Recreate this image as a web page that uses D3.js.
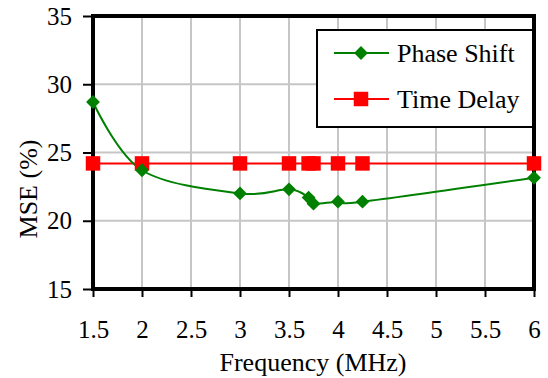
<!DOCTYPE html>
<html>
<head>
<meta charset="utf-8">
<script src="https://cdn.jsdelivr.net/npm/d3@7"></script>
<style>
	body { margin: 0; background: #fff; }
	svg, svg text { font-family: "Liberation Serif", "Times New Roman", serif; }
</style>
</head>
<body>
<svg id="chart" width="548" height="378"></svg>
<script>
const frequencies = [1.5, 2, 3, 3.5, 3.7, 3.75, 4, 4.25, 6];
const phaseShift = [28.7, 23.7, 22.0, 22.3, 21.7, 21.25, 21.4, 21.4, 23.15];
const timeDelay = [24.2, 24.2, 24.2, 24.2, 24.2, 24.2, 24.2, 24.2, 24.2];
const xTicks = [1.5, 2, 2.5, 3, 3.5, 4, 4.5, 5, 5.5, 6];
const yTicks = [15, 20, 25, 30, 35];
const seriesNames = ["Phase Shift", "Time Delay"];

const svg = d3.select('#chart');
const margin = {left: 93, right: 14, top: 16, bottom: 89};
const W = 548, H = 378;
const FONT = '"Liberation Serif", "Times New Roman", serif';

const x = d3.scaleLinear().domain([1.5, 6]).range([margin.left, W - margin.right]);
const y = d3.scaleLinear().domain([15, 35]).range([H - margin.bottom, margin.top]);

// grid
svg.append('g')
	.selectAll('line')
	.data(xTicks)
	.join('line')
	.attr('x1', d => x(d)).attr('x2', d => x(d))
	.attr('y1', y(35)).attr('y2', y(15))
	.attr('stroke', '#c6c6c6').attr('stroke-width', 2);
svg.append('g')
	.selectAll('line')
	.data(yTicks)
	.join('line')
	.attr('y1', d => y(d)).attr('y2', d => y(d))
	.attr('x1', x(1.5)).attr('x2', x(6))
	.attr('stroke', '#c6c6c6').attr('stroke-width', 2);

// axes
const xAxis = svg.append('g')
	.attr('transform', `translate(0,${y(15)})`)
	.call(d3.axisBottom(x).tickValues(xTicks).tickSize(8).tickPadding(23).tickFormat(d3.format('')));
const yAxis = svg.append('g')
	.attr('transform', `translate(${x(1.5)},0)`)
	.call(d3.axisLeft(y).tickValues(yTicks).tickSize(10).tickPadding(11));
[xAxis, yAxis].forEach(a => {
	a.attr('font-family', FONT);
	a.select('.domain').remove();
	a.selectAll('line').attr('stroke', '#000').attr('stroke-width', 2);
	a.selectAll('text').attr('font-size', 25).style('font-family', FONT).attr('fill', '#000');
});

// plot border
svg.append('rect')
	.attr('x', x(1.5)).attr('y', y(35))
	.attr('width', x(6) - x(1.5)).attr('height', y(15) - y(35))
	.attr('fill', 'none').attr('stroke', '#000').attr('stroke-width', 4);

// series
const phaseData = frequencies.map((f, i) => ({x: f, y: phaseShift[i]}));
const delayData = frequencies.map((f, i) => ({x: f, y: timeDelay[i]}));

svg.append('path')
	.datum(delayData)
	.attr('fill', 'none').attr('stroke', '#ff0000').attr('stroke-width', 2)
	.attr('d', d3.line().x(d => x(d.x)).y(d => y(d.y)));

svg.append('path')
	.datum(phaseData)
	.attr('fill', 'none').attr('stroke', '#008000').attr('stroke-width', 2)
	.attr('d', d3.line().curve(d3.curveCardinal.tension(0)).x(d => x(d.x)).y(d => y(d.y)));

const diamond = d3.symbol().type(d3.symbolSquare).size(95);
const square = d3.symbol().type(d3.symbolSquare).size(210);

svg.append('g')
	.selectAll('path')
	.data(delayData)
	.join('path')
	.attr('d', square)
	.attr('transform', d => `translate(${x(d.x)},${y(d.y)})`)
	.attr('fill', '#ff0000');

svg.append('g')
	.selectAll('path')
	.data(phaseData)
	.join('path')
	.attr('d', diamond)
	.attr('transform', d => `translate(${x(d.x)},${y(d.y)}) rotate(45)`)
	.attr('fill', '#008000');

// axis titles
svg.append('text')
	.attr('x', 313).attr('y', 371)
	.attr('text-anchor', 'middle').attr('font-size', 26)
	.style('font-family', FONT)
	.text('Frequency (MHz)');
svg.append('text')
	.attr('transform', `translate(37,189) rotate(-90)`)
	.attr('text-anchor', 'middle').attr('font-size', 26)
	.style('font-family', FONT)
	.text('MSE (%)');

// legend
const legend = svg.append('g').attr('transform', 'translate(317,30)');
legend.append('rect')
	.attr('width', 216).attr('height', 97)
	.attr('fill', '#fff').attr('stroke', '#000').attr('stroke-width', 2);
const colors = ['#008000', '#ff0000'];
const items = legend.selectAll('g')
	.data(seriesNames)
	.join('g')
	.attr('transform', (d, i) => `translate(0,${23 + i * 46})`);
items.append('line')
	.attr('x1', 17).attr('x2', 72)
	.attr('stroke', (d, i) => colors[i]).attr('stroke-width', 2);
items.append('path')
	.attr('d', (d, i) => i === 0 ? diamond() : square())
	.attr('transform', (d, i) => i === 0 ? 'translate(44,0) rotate(45)' : 'translate(44,0)')
	.attr('fill', (d, i) => colors[i]);
items.append('text')
	.attr('x', 80).attr('dy', '0.36em')
	.attr('font-size', 26)
	.style('font-family', FONT)
	.text(d => d);
</script>
</body>
</html>
